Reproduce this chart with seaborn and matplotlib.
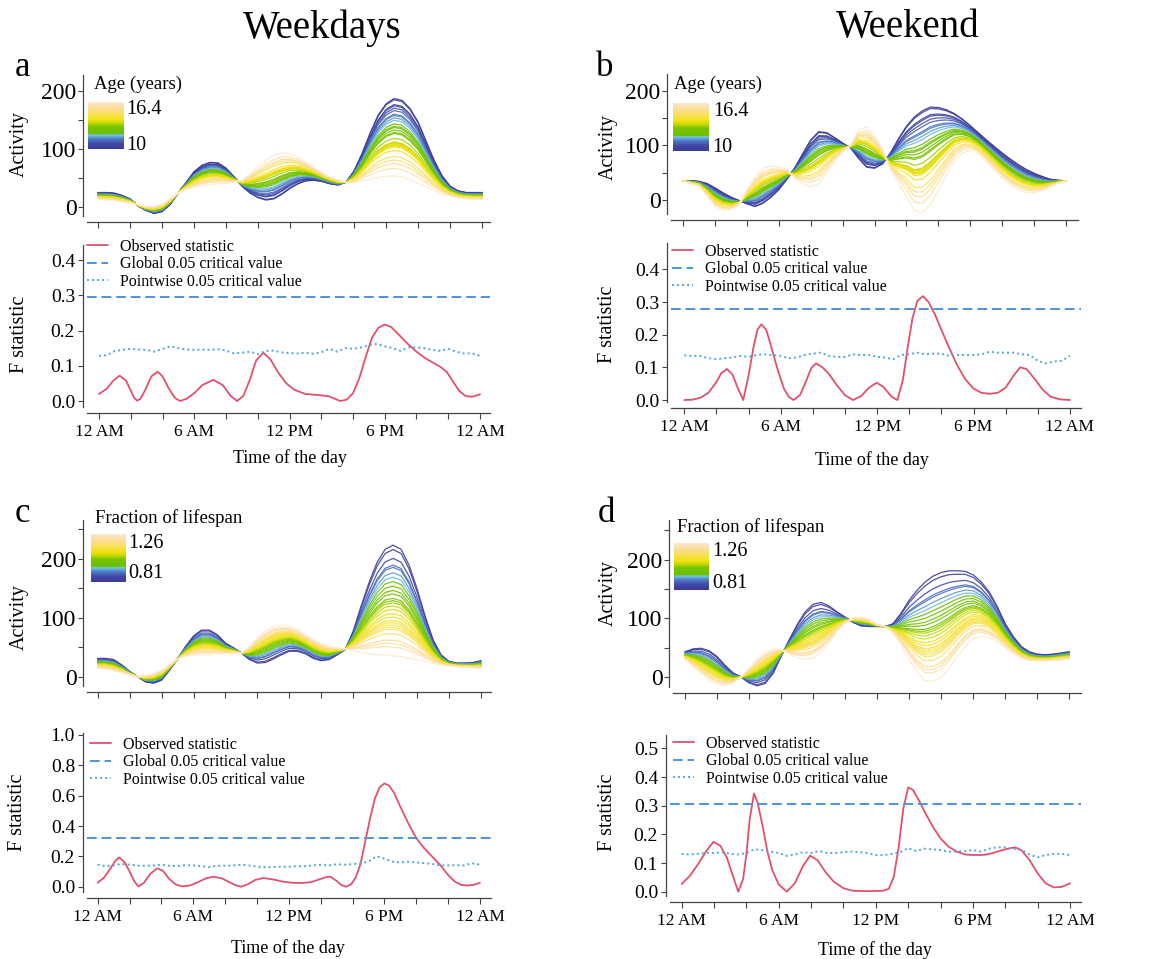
import numpy as np
import pandas as pd
import matplotlib
matplotlib.use("Agg")
import matplotlib.pyplot as plt
import seaborn as sns
from matplotlib.colors import LinearSegmentedColormap
from matplotlib.lines import Line2D

sns.set_theme(style="ticks")
plt.rcParams["font.family"] = ["Liberation Serif", "DejaVu Serif"]
plt.rcParams["text.color"] = "black"
plt.rcParams["xtick.labelcolor"] = "black"
plt.rcParams["ytick.labelcolor"] = "black"

# ---------------- data ----------------
hours = np.arange(0, 24.5, 0.5)          # half-hour grid, 12 AM .. 12 AM
xtick_hours = [0, 2, 4, 6, 8, 10, 12, 14, 16, 18, 20, 22, 24]
xtick_labels = ["12 AM", "", "", "6 AM", "", "", "12 PM", "", "", "6 PM", "", "", "12 AM"]

ages = [10.0, 10.1, 10.5, 10.6, 10.8, 11.0, 11.3, 11.4, 11.6, 11.8, 12.1, 12.3, 12.4, 12.6, 12.8,
        12.9, 13.3, 13.6, 13.65, 13.7, 13.8, 13.85, 13.9, 14.0, 14.3, 14.8, 15.1, 15.4, 15.8, 16.4]
lifespan = [0.81, 0.828, 0.864, 0.891, 0.9, 0.922, 0.94, 0.958, 0.976, 0.994, 1.008, 1.026, 1.035, 1.044,
            1.057, 1.071, 1.089, 1.102, 1.116, 1.125, 1.134, 1.143, 1.152, 1.17, 1.197, 1.21, 1.224, 1.26]

# activity curves of the youngest / oldest subject (fitted curves are linear in the covariate)
act_a_low = [25, 25, 24, 20, 14, 2, -6, -11, -8, 4, 24, 42, 61, 72, 77, 76, 67, 52, 36, 24, 16, 12, 14, 22, 32,
             40, 45, 46, 44, 40, 38, 43, 62, 92, 127, 158, 178, 187, 184, 170, 147, 114, 81, 54, 36, 28, 25, 25, 25]
act_a_high = [13, 12, 11, 9, 7, 4, 1, 1, 5, 14, 24, 31, 34, 37, 39, 40, 41, 43, 46, 57, 70, 81, 89, 93, 92,
              86, 77, 68, 59, 52, 47, 42, 42, 45, 48, 51, 53, 54, 52, 47, 41, 35, 29, 23, 19, 16, 14, 13, 13]
act_b_low = [35, 35, 34, 30, 22, 13, 5, -1, -7, -12, -6, 5, 19, 38, 59, 85, 110, 125, 123, 114, 104, 95, 76, 60, 58,
             66, 86, 112, 135, 152, 163, 170, 169, 165, 158, 148, 136, 123, 110, 98, 86, 75, 65, 56, 49, 43, 38, 36, 35]
act_b_high = [35, 30, 25, 7, -12, -19, -17, -8, 19, 42, 58, 62, 60, 56, 40, 30, 24, 30, 50, 72, 88, 100, 128, 133, 118,
              92, 56, 30, 7, -20, -23, -8, 18, 45, 72, 86, 91, 85, 71, 56, 40, 28, 19, 14, 13, 17, 24, 30, 35]
act_c_low = [31, 31, 29, 20, 9, 0, -9, -11, -6, 11, 30, 51, 69, 79, 79, 71, 57, 49, 40, 29, 23, 24, 30, 37, 43,
             43, 39, 31, 27, 29, 37, 46, 77, 120, 160, 194, 216, 223, 216, 189, 149, 103, 63, 37, 26, 23, 23, 24, 27]
act_c_high = [14, 13, 10, 7, 3, 0, 2, 5, 11, 20, 30, 35, 37, 37, 37, 38, 39, 40, 40, 51, 66, 77, 85, 87, 86,
              80, 71, 63, 56, 51, 49, 47, 45, 41, 39, 37, 37, 35, 34, 31, 29, 26, 23, 20, 18, 17, 16, 15, 14]
act_d_low = [43, 48, 49, 45, 35, 20, 7, 0, -10, -15, -11, 6, 35, 63, 89, 111, 124, 127, 121, 111, 102, 93, 87, 86, 86,
             86, 91, 109, 131, 148, 162, 172, 178, 181, 181, 180, 174, 162, 145, 120, 91, 69, 52, 43, 39, 38, 39, 41, 43]
act_d_high = [30, 18, 6, -5, -12, -14, -10, 0, 15, 30, 42, 48, 47, 40, 33, 30, 32, 42, 58, 78, 92, 100, 102, 98, 90,
              86, 75, 55, 30, 8, -6, -7, 0, 15, 35, 52, 65, 69, 67, 60, 50, 40, 32, 28, 27, 27, 28, 29, 30]

# observed F statistics, read at their own time points (denser around peaks)
f_a_hours = [0, 0.5, 0.9, 1.3, 1.7, 2.0, 2.2, 2.4, 2.6, 2.9, 3.3, 3.7, 4.0, 4.4, 4.8, 5.1, 5.5, 6.0, 6.5, 7.2,
             7.8, 8.3, 8.7, 9.1, 9.5, 9.9, 10.35, 10.8, 11.3, 11.8, 12.3, 13.0, 14.0, 14.5, 15.2, 15.6, 16.0,
             16.4, 16.8, 17.2, 17.6, 18.0, 18.4, 19.0, 19.5, 20.0, 20.5, 21.0, 21.5, 21.9, 22.3, 22.7, 23.1,
             23.5, 24]
f_a_obs = [0.020, 0.035, 0.058, 0.072, 0.058, 0.030, 0.010, 0.001, 0.006, 0.030, 0.070, 0.083, 0.070, 0.035,
           0.008, 0.000, 0.006, 0.022, 0.045, 0.060, 0.045, 0.014, 0.000, 0.015, 0.060, 0.115, 0.137, 0.118,
           0.080, 0.050, 0.032, 0.020, 0.016, 0.013, 0.000, 0.004, 0.022, 0.065, 0.125, 0.180, 0.208, 0.217,
           0.210, 0.183, 0.160, 0.140, 0.123, 0.110, 0.097, 0.083, 0.055, 0.028, 0.014, 0.012, 0.019]
f_b_hours = [0, 0.5, 1.0, 1.5, 2.0, 2.3, 2.65, 3.0, 3.3, 3.67, 4.0, 4.3, 4.55, 4.8, 5.1, 5.4, 5.8, 6.2, 6.5,
             6.8, 7.2, 7.6, 7.9, 8.2, 8.6, 9.0, 9.5, 10.0, 10.5, 11.0, 11.5, 11.97, 12.4, 12.9, 13.26, 13.6,
             13.9, 14.2, 14.5, 14.85, 15.2, 15.6, 16.0, 16.5, 17.0, 17.5, 18.0, 18.5, 19.0, 19.5, 20.0, 20.5,
             20.9, 21.3, 21.8, 22.3, 22.8, 23.4, 24]
f_b_obs = [0.0, 0.001, 0.007, 0.022, 0.055, 0.082, 0.095, 0.078, 0.040, 0.0, 0.075, 0.160, 0.215, 0.232,
           0.215, 0.165, 0.095, 0.035, 0.010, 0.0, 0.015, 0.060, 0.098, 0.112, 0.100, 0.080, 0.045, 0.015,
           0.0, 0.012, 0.038, 0.053, 0.040, 0.010, 0.0, 0.060, 0.160, 0.250, 0.303, 0.318, 0.300, 0.262,
           0.215, 0.158, 0.105, 0.063, 0.035, 0.022, 0.019, 0.022, 0.038, 0.075, 0.100, 0.095, 0.065, 0.032,
           0.010, 0.002, 0.0]
f_c_hours = [0, 0.4, 0.8, 1.1, 1.36, 1.7, 2.0, 2.3, 2.55, 2.9, 3.3, 3.74, 4.1, 4.5, 4.9, 5.3, 5.8, 6.3, 6.8,
             7.26, 7.8, 8.3, 8.7, 9.0, 9.4, 9.9, 10.4, 11.0, 11.6, 12.2, 12.8, 13.4, 13.9, 14.3, 14.6, 15.0,
             15.3, 15.6, 15.9, 16.2, 16.5, 16.8, 17.1, 17.4, 17.7, 18.0, 18.3, 18.6, 19.0, 19.5, 20.0, 20.5,
             21.0, 21.5, 22.0, 22.4, 22.8, 23.2, 23.6, 24]
f_c_obs = [0.026, 0.060, 0.120, 0.170, 0.193, 0.160, 0.100, 0.035, 0.002, 0.025, 0.085, 0.121, 0.105, 0.050,
           0.015, 0.002, 0.008, 0.030, 0.055, 0.066, 0.055, 0.028, 0.008, 0.0, 0.015, 0.045, 0.057, 0.048,
           0.034, 0.026, 0.024, 0.030, 0.048, 0.062, 0.066, 0.038, 0.010, 0.0, 0.015, 0.060, 0.150, 0.300,
           0.450, 0.580, 0.655, 0.681, 0.665, 0.620, 0.527, 0.418, 0.319, 0.253, 0.198, 0.143, 0.077, 0.035,
           0.012, 0.008, 0.012, 0.026]
f_d_hours = [0, 0.5, 1.0, 1.5, 1.96, 2.4, 2.8, 3.2, 3.5, 3.8, 4.0, 4.2, 4.47, 4.7, 5.0, 5.3, 5.6, 6.0, 6.5,
             7.0, 7.5, 7.94, 8.4, 8.9, 9.4, 10.0, 10.6, 11.5, 12.4, 12.8, 13.1, 13.4, 13.7, 14.0, 14.3, 14.7,
             15.1, 15.6, 16.0, 16.5, 17.0, 17.5, 18.0, 18.5, 19.0, 19.5, 20.0, 20.6, 21.0, 21.5, 22.0, 22.5,
             23.0, 23.5, 24]
f_d_obs = [0.027, 0.055, 0.095, 0.140, 0.174, 0.160, 0.118, 0.050, 0.0, 0.045, 0.130, 0.250, 0.343, 0.310,
           0.230, 0.140, 0.075, 0.025, 0.0, 0.030, 0.090, 0.126, 0.110, 0.068, 0.035, 0.012, 0.003, 0.002,
           0.003, 0.010, 0.050, 0.150, 0.290, 0.364, 0.355, 0.315, 0.270, 0.220, 0.186, 0.157, 0.140, 0.130,
           0.128, 0.128, 0.131, 0.140, 0.148, 0.155, 0.145, 0.110, 0.064, 0.029, 0.015, 0.017, 0.029]

# pointwise critical values (half-hour grid)
f_a_point = [0.128, 0.13, 0.142, 0.145, 0.148, 0.146, 0.145, 0.14, 0.148, 0.155, 0.15, 0.146, 0.145, 0.146, 0.145,
             0.147, 0.143, 0.135, 0.137, 0.14, 0.133, 0.142, 0.143, 0.138, 0.136, 0.135, 0.137, 0.134, 0.138, 0.148,
             0.14, 0.15, 0.148, 0.152, 0.158, 0.162, 0.155, 0.15, 0.142, 0.152, 0.152, 0.15, 0.145, 0.142, 0.148,
             0.14, 0.135, 0.135, 0.128]
f_b_point = [0.137, 0.135, 0.135, 0.128, 0.125, 0.128, 0.13, 0.135, 0.132, 0.138, 0.14, 0.138, 0.135, 0.128, 0.13,
             0.138, 0.142, 0.145, 0.135, 0.132, 0.132, 0.14, 0.138, 0.138, 0.132, 0.13, 0.125, 0.138, 0.14, 0.145,
             0.14, 0.142, 0.142, 0.135, 0.138, 0.138, 0.138, 0.14, 0.148, 0.145, 0.145, 0.145, 0.14, 0.138, 0.12,
             0.112, 0.118, 0.12, 0.135]
f_c_point = [0.145, 0.135, 0.14, 0.15, 0.145, 0.14, 0.138, 0.14, 0.145, 0.138, 0.135, 0.142, 0.14, 0.135, 0.13,
             0.138, 0.138, 0.14, 0.145, 0.14, 0.132, 0.128, 0.13, 0.132, 0.132, 0.135, 0.135, 0.14, 0.145, 0.14,
             0.148, 0.145, 0.148, 0.155, 0.165, 0.2, 0.185, 0.165, 0.16, 0.165, 0.16, 0.155, 0.15, 0.14, 0.14,
             0.142, 0.14, 0.155, 0.145]
f_d_point = [0.132, 0.13, 0.132, 0.135, 0.135, 0.138, 0.132, 0.13, 0.135, 0.148, 0.145, 0.14, 0.135, 0.125, 0.13,
             0.138, 0.135, 0.142, 0.135, 0.135, 0.138, 0.14, 0.138, 0.135, 0.128, 0.128, 0.132, 0.138, 0.152, 0.142,
             0.15, 0.148, 0.145, 0.14, 0.14, 0.142, 0.145, 0.14, 0.15, 0.155, 0.155, 0.15, 0.145, 0.13, 0.12,
             0.128, 0.132, 0.132, 0.128]
f_global = {"a": 0.294, "b": 0.279, "c": 0.319, "d": 0.305}

legend_labels = ["Observed statistic", "Global 0.05 critical value", "Pointwise 0.05 critical value"]

# ---------------- styling ----------------
W, H = 1157, 959
cmap = LinearSegmentedColormap.from_list("agecol", [
    (0.0, "#3a3b96"), (0.12, "#4349a8"), (0.22, "#4f80c8"), (0.30, "#72cbea"),
    (0.32, "#6cbf00"), (0.48, "#78c400"), (0.55, "#c4da00"), (0.62, "#f0e010"),
    (0.75, "#f8e25a"), (0.87, "#fcdc98"), (1.0, "#fde9cf")])
obs_color = "#e3506d"
glob_color = "#4f93d8"
point_color = "#4fa5e0"

fig = plt.figure(figsize=(W / 100, H / 100), dpi=100)


def px_axes(left, top, right, bottom):
    return fig.add_axes([left / W, 1 - bottom / H, (right - left) / W, (bottom - top) / H])


def fig_text(x, y, s, **kw):
    fig.text(x / W, 1 - y / H, s, color="black", **kw)


def style(ax, xlim, ylim, yticks, ylabels, ysize, ypad, xlabels):
    ax.set_xlim(xlim)
    ax.set_ylim(ylim)
    ax.set_xticks(xtick_hours)
    ax.set_xticklabels(xtick_labels if xlabels else [""] * len(xtick_hours))
    ax.set_yticks(yticks)
    ax.set_yticklabels(ylabels)
    ax.set_xlabel("")
    ax.set_ylabel("")
    for s in ["top", "right"]:
        ax.spines[s].set_visible(False)
    for s in ["left", "bottom"]:
        ax.spines[s].set_color("#444444")
        ax.spines[s].set_linewidth(0.9)
    ax.spines["left"].set_position(("outward", 3))
    ax.spines["bottom"].set_position(("outward", 4.3))
    ax.tick_params(axis="y", length=3.6, width=0.8, pad=ypad, labelsize=ysize, color="#444444")
    ax.tick_params(axis="x", length=4.5, width=0.8, pad=3.5, labelsize=12.5, color="#444444")
    ax.patch.set_alpha(0)


def activity_panel(rect, xlim, ylim, yticks, ylabels, low, high, cov, bar):
    ax = px_axes(*rect)
    cmin, cmax = min(cov), max(cov)
    rows = []
    for c in cov:
        f = (c - cmin) / (cmax - cmin)
        vals = np.array(low) + f * (np.array(high) - np.array(low))
        rows.append(pd.DataFrame({"hour": hours, "activity": vals, "cov": c}))
    df = pd.concat(rows)
    sns.lineplot(data=df, x="hour", y="activity", hue="cov", palette=cmap, hue_norm=(cmin, cmax),
                 estimator=None, legend=False, lw=0.9, alpha=0.9, ax=ax)
    style(ax, xlim, ylim, yticks, ylabels, 17, 1, False)
    # gradient legend
    title, (tx, ty), brect, top_lab, (x1, y1), bot_lab, (x2, y2) = bar
    fig_text(tx, ty, title, ha="left", va="center", fontsize=13.5)
    cax = px_axes(*brect)
    cax.imshow(np.linspace(0, 1, 256)[:, None], cmap=cmap, origin="lower", aspect="auto")
    cax.axis("off")
    fig_text(x1, y1, top_lab, ha="left", va="center", fontsize=14.5)
    fig_text(x2, y2, bot_lab, ha="left", va="center", fontsize=14.5)
    return ax


def fstat_panel(rect, xlim, ylim, yticks, ylabels, obs_hours, obs, point, glob, leg_xy):
    ax = px_axes(*rect)
    obs_df = pd.DataFrame({"hour": obs_hours, "obs": obs})
    pt_df = pd.DataFrame({"hour": hours, "point": point})
    sns.lineplot(data=obs_df, x="hour", y="obs", color=obs_color, lw=1.3, ax=ax)
    sns.lineplot(data=pt_df, x="hour", y="point", color=point_color, lw=1.4, ls=(0, (1, 1.6)), ax=ax)
    ax.axhline(glob, color=glob_color, lw=1.4, ls=(0, (5, 2.5)))
    style(ax, xlim, ylim, yticks, ylabels, 14, 2, True)
    handles = [Line2D([], [], color=obs_color, lw=1.3),
               Line2D([], [], color=glob_color, lw=1.4, ls=(0, (5, 2.5))),
               Line2D([], [], color=point_color, lw=1.4, ls=(0, (1, 1.6)))]
    ax.legend(handles, legend_labels, loc="upper left",
              bbox_to_anchor=(leg_xy[0] / W, 1 - leg_xy[1] / H), bbox_transform=fig.transFigure,
              frameon=False, fontsize=11.5, handlelength=1.3, handletextpad=0.75,
              labelspacing=0.08, borderpad=0, borderaxespad=0)
    return ax


act_ticks_ab = [0, 50, 100, 150, 200]
act_labels_ab = ["0", "", "100", "", "200"]
act_ticks_cd = [0, 50, 100, 150, 200, 250]
act_labels_cd = ["0", "", "100", "", "200", ""]

activity_panel((87, 75, 490, 216), (-0.69, 24.5), (-15.5, 227.6), act_ticks_ab, act_labels_ab,
               act_a_low, act_a_high, ages,
               ("Age (years)", (94, 84), (88, 102, 124, 149), "16.4", (126, 109), "10", (126, 146)))
activity_panel((671, 74, 1078, 214), (-0.77, 24.76), (-25.6, 230.3), act_ticks_ab, act_labels_ab,
               act_b_low, act_b_high, ages,
               ("Age (years)", (674, 84), (673, 103, 709, 151), "16.4", (713, 111), "10", (712, 147)))
activity_panel((87, 520, 491, 686), (-0.67, 24.63), (-15.8, 265.6), act_ticks_cd, act_labels_cd,
               act_c_low, act_c_high, lifespan,
               ("Fraction of lifespan", (95, 518), (91, 534, 126, 582), "1.26", (128, 543), "0.81", (128, 574)))
activity_panel((673, 520, 1081, 687), (-0.75, 24.73), (-17.0, 267.5), act_ticks_cd, act_labels_cd,
               act_d_low, act_d_high, lifespan,
               ("Fraction of lifespan", (677, 527), (674, 543, 709, 590), "1.26", (712, 552), "0.81", (712, 583)))

f_ticks_ab = [0, 0.1, 0.2, 0.3, 0.4]
f_labels_ab = ["0.0", "0.1", "0.2", "0.3", "0.4"]
fstat_panel((87, 245, 490, 407), (-0.756, 24.63), (-0.017, 0.4426), f_ticks_ab, f_labels_ab,
            f_a_hours, f_a_obs, f_a_point, f_global["a"], (87, 239))
fstat_panel((671, 243, 1081, 402), (-0.827, 24.69), (-0.006, 0.4806), f_ticks_ab, f_labels_ab,
            f_b_hours, f_b_obs, f_b_point, f_global["b"], (672, 244))
fstat_panel((87, 733, 491, 892), (-0.67, 24.69), (-0.035, 1.013), [0, 0.2, 0.4, 0.6, 0.8, 1.0],
            ["0.0", "0.2", "0.4", "0.6", "0.8", "1.0"], f_c_hours, f_c_obs, f_c_point, f_global["c"], (90, 737))
fstat_panel((670, 735, 1081, 896), (-0.72, 24.68), (-0.015, 0.547), [0, 0.1, 0.2, 0.3, 0.4, 0.5],
            ["0.0", "0.1", "0.2", "0.3", "0.4", "0.5"], f_d_hours, f_d_obs, f_d_point, f_global["d"], (673, 736))

# axis labels, titles, panel letters
for x, y in [(19, 144), (608, 147), (19, 617), (608, 593)]:
    fig_text(x, y, "Activity", rotation=90, ha="center", va="center", fontsize=14.5)
for x, y in [(19, 334), (607, 324), (18, 812), (607, 812)]:
    fig_text(x, y, "F statistic", rotation=90, ha="center", va="center", fontsize=14.5)
for x, y in [(290, 458), (872, 460), (288, 948), (875, 950)]:
    fig_text(x, y, "Time of the day", ha="center", va="center", fontsize=13)
fig_text(322, 28, "Weekdays", ha="center", va="center", fontsize=28)
fig_text(908, 28, "Weekend", ha="center", va="center", fontsize=28)
for x, y, s in [(23, 68, "a"), (605, 68, "b"), (22, 514, "c"), (606, 513, "d")]:
    fig_text(x, y, s, ha="center", va="center", fontsize=25)

fig.savefig("out.png", dpi=100)
